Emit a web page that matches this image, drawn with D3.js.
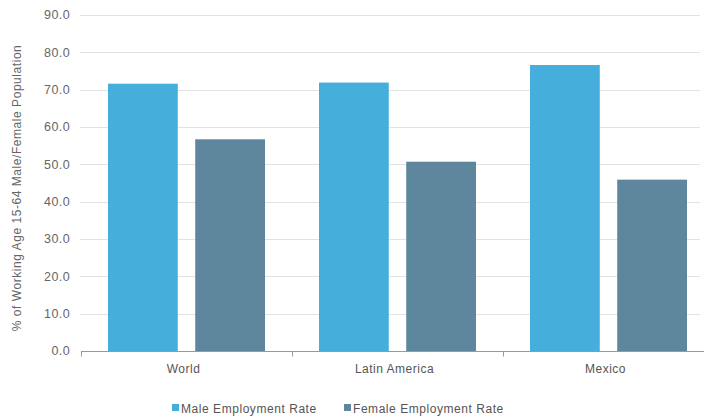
<!DOCTYPE html>
<html><head><meta charset="utf-8">
<script src="https://cdn.jsdelivr.net/npm/d3@7"></script>
<style>
body{margin:0;background:#fff;}
text{font-family:"Liberation Sans",Arial,sans-serif;}
</style></head>
<body>
<svg id="chart" width="704" height="419"></svg>
<script>
const categories = ["World", "Latin America", "Mexico"];
const seriesNames = ["Male Employment Rate", "Female Employment Rate"];
const maleValues = [71.6, 71.9, 76.6];
const femaleValues = [56.7, 50.7, 45.9];
const yTicks = [0, 10, 20, 30, 40, 50, 60, 70, 80, 90];
const colors = ["#45aedb", "#5e879e"];

const svg = d3.select("#chart");
const mLeft = 81, mRight = 714, mTop = 15, mBottom = 351;

const x0 = d3.scaleBand().domain(categories).range([mLeft, mRight]).padding(0);
const x1 = d3.scaleBand().domain(seriesNames).range([27, 184]).paddingInner(0.2).paddingOuter(0);
const y = d3.scaleLinear().domain([0, 90]).range([mBottom, mTop]);

// gridlines
svg.append("g").selectAll("line").data(yTicks.filter(d => d > 0)).join("line")
  .attr("x1", mLeft - 1).attr("x2", 700)
  .attr("y1", d => Math.round(y(d)) + 0.5).attr("y2", d => Math.round(y(d)) + 0.5)
  .attr("stroke", "#e2e2e2").attr("stroke-width", 1);

// y labels
svg.append("g").selectAll("text").data(yTicks).join("text")
  .attr("x", 70).attr("y", d => y(d)).attr("dy", "0.35em")
  .attr("text-anchor", "end").attr("font-size", 12.5).attr("letter-spacing", 0.4).attr("fill", "#666")
  .text(d => d3.format(".1f")(d));

// y title
svg.append("text")
  .attr("transform", `translate(21,188) rotate(-90)`)
  .attr("text-anchor", "middle").attr("font-size", 12).attr("letter-spacing", 0.55).attr("fill", "#666")
  .text("% of Working Age 15-64 Male/Female Population");

// bars
const data = categories.map((c, i) => ({cat: c, vals: [maleValues[i], femaleValues[i]]}));
const groups = svg.append("g").selectAll("g").data(data).join("g")
  .attr("transform", d => `translate(${x0(d.cat)},0)`);
groups.selectAll("rect").data(d => d.vals.map((v, j) => ({s: seriesNames[j], v, j}))).join("rect")
  .attr("x", d => x1(d.s)).attr("width", x1.bandwidth())
  .attr("y", d => y(d.v)).attr("height", d => y(0) - y(d.v))
  .attr("fill", d => colors[d.j]);

// x axis
const xAxis = svg.append("g").attr("transform", `translate(0,${Math.round(mBottom) + 0.5})`);
xAxis.append("line").attr("x1", mLeft).attr("x2", 704).attr("stroke", "#999");
const bounds = categories.map(c => x0(c));
xAxis.selectAll("line.tk").data(bounds).join("line").attr("class", "tk")
  .attr("x1", d => Math.round(d) + 0.5).attr("x2", d => Math.round(d) + 0.5)
  .attr("y1", 0).attr("y2", 5).attr("stroke", "#999");
xAxis.selectAll("text").data(categories).join("text")
  .attr("x", d => x0(d) + x0.bandwidth() / 2 - 3).attr("y", 21)
  .attr("text-anchor", "middle").attr("font-size", 12).attr("letter-spacing", 0.5).attr("fill", "#555")
  .text(d => d);

// legend
const legendX = [172, 344];
const lg = svg.append("g").selectAll("g").data(seriesNames).join("g")
  .attr("transform", (d, i) => `translate(${legendX[i]},404)`);
lg.append("rect").attr("width", 7).attr("height", 7).attr("fill", (d, i) => colors[i]);
lg.append("text").attr("x", 9).attr("y", 8.5).attr("font-size", 12)
  .attr("fill", "#555").attr("letter-spacing", 0.55).text(d => d);
</script>
</body></html>
